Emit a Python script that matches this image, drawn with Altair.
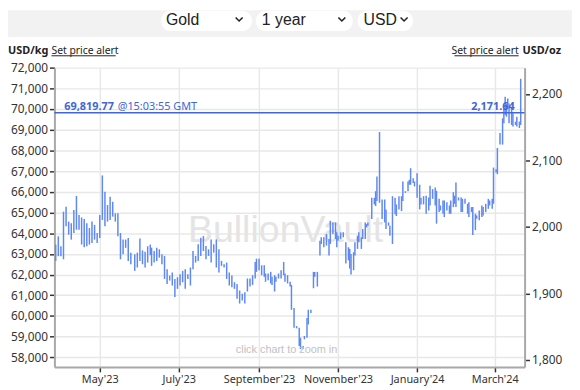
import altair as alt
import pandas as pd

# ---------------- data ----------------
START = "2023-03-27"
END = "2024-03-24"
OZ_PER_KG = 32.1507466
Y_MIN_KG = 57537
Y_MAX_KG = 72000

day_offset = [
    1, 3, 5, 7, 9, 11, 13, 15, 17, 19, 21, 23, 25, 27, 29, 31, 33, 35, 37, 39,
    41, 43, 45, 47, 49, 51, 53, 55, 57, 59, 62, 64, 66, 68, 70, 72, 74,
    75, 77, 79, 81, 83, 85, 87, 89, 91, 93, 95, 97, 99, 101, 103, 105, 107, 109,
    111, 113, 115, 117, 119, 121, 123, 125, 127, 129, 131, 133, 135, 137, 139,
    141, 143, 145, 147,
    149, 151, 153, 155, 156, 158, 160, 162, 163, 165, 167, 168, 170, 171, 173,
    175, 177, 178, 180, 182, 183, 185, 187, 189, 190, 192, 193, 195, 196, 198,
    200, 201, 203, 205, 206, 208, 210, 212, 213, 215, 217,
    218, 219, 221, 223, 225, 227, 228, 229, 231, 232, 234, 235, 237, 238, 240,
    241, 242, 245, 247, 248, 249, 251, 253, 255, 256, 258, 259, 261, 263, 264,
    266, 268, 269, 271, 273, 274, 275, 277, 278, 280, 282, 283, 285,
    287, 289, 290, 292, 294, 295, 297, 298, 300, 301, 303, 305, 306, 308, 309,
    310, 312, 314, 315, 317, 319, 320, 322, 323, 325, 326, 328, 330, 331, 333,
    335, 336, 338, 339, 341, 342, 344, 346, 347, 348, 349, 350, 351, 353, 354,
    356, 357, 359, 360,
]

high_usd_kg = [
    63450, 63850, 63370, 65040, 65280, 64560, 64480, 65120, 65800, 64880, 64760,
    64690, 64480, 64250, 64560, 64400, 64010, 64880, 66790, 66000, 65360, 65760,
    65520, 64960, 64960, 64010, 63690, 63690, 63770, 63060, 62980, 63060, 63740,
    63170, 63100, 63370, 63450,
    63300, 63140, 63300, 63220, 62980, 62900, 62260, 61950, 62100, 61790, 61870,
    62020, 62180, 62260, 62020, 62340, 63140, 62900, 63460, 63780, 63860, 63380,
    63220, 63700, 63460, 63700, 63220, 62660, 62500, 62580, 62100, 61950, 61630,
    61550, 61230, 61070, 61150,
    61810, 61810, 61970, 62610, 62770, 62770, 62450, 62450, 62050, 62050, 62130,
    61890, 61970, 61890, 62050, 62210, 62610, 62050, 61970, 61650, 61500, 60380,
    59510, 59430, 58950, 58550, 59030, 59900, 60300, 60300, 62130, 62130, 62130,
    63640, 63800, 63800, 63960, 63720, 64600, 64520, 64520,
    64040, 63880, 64040, 64040, 63560, 63320, 63240, 63000, 63080, 63560, 63880,
    64040, 63800, 64200, 64520, 64440, 64520, 65710, 65710, 66030, 66740, 68890,
    65630, 65630, 65150, 64520, 64360, 65790, 65710, 65390, 65790, 65790, 66500,
    66030, 66500, 66580, 67140, 66660, 66500, 66900, 66340, 65710, 65790,
    65810, 65730, 66290, 66130, 66210, 66050, 65660, 65340, 65580, 65580, 65500,
    65340, 65580, 65980, 65810, 66450, 65730, 65730, 65660, 65660, 65420, 65500,
    65260, 65260, 64940, 64860, 65100, 65340, 65260, 65420, 65660, 65580, 65660,
    67170, 67090, 68120, 68840, 69550, 70030, 70590, 70270, 70510, 70270, 70110,
    69790, 69390, 69630, 69390, 71460,
]

low_usd_kg = [
    62660, 62890, 62890, 62740, 64330, 63930, 63690, 64010, 64170, 64170, 63450,
    63320, 63370, 63450, 63530, 63690, 63530, 63770, 64640, 64330, 64560, 64640,
    64800, 64560, 63850, 62740, 62980, 63290, 62660, 62500, 62180, 62340, 62660,
    62500, 62340, 62580, 62940,
    62420, 62580, 62660, 62820, 62500, 61790, 61550, 61710, 61470, 60910, 61310,
    61470, 61630, 61310, 61790, 61470, 62260, 62580, 62660, 62900, 63140, 62740,
    62900, 62580, 63060, 62340, 62100, 62420, 62340, 61790, 61470, 61390, 61310,
    60830, 60600, 60750, 60600,
    61180, 61420, 61500, 61810, 62130, 62210, 61970, 61890, 61650, 61730, 61570,
    61500, 61180, 61650, 61810, 61810, 61970, 61650, 61570, 61420, 60300, 59430,
    59400, 58550, 58400, 58400, 58870, 58950, 59590, 60140, 61340, 61890, 61420,
    62920, 63480, 63320, 63400, 62920, 63480, 63960, 63720,
    63320, 63640, 63720, 63800, 62530, 62690, 62290, 62000, 62210, 62920, 63240,
    63560, 63240, 63720, 63720, 64280, 64360, 64680, 65390, 65310, 65550, 65470,
    64680, 64520, 64200, 64360, 63880, 63480, 64910, 64830, 65150, 65070, 65550,
    65950, 66030, 66340, 66340, 66420, 66260, 65710, 65150, 65390, 65390,
    64940, 65100, 65340, 65660, 65340, 64460, 65020, 65100, 64940, 64780, 65100,
    64940, 64940, 65260, 65420, 65260, 65580, 65020, 65020, 65420, 64940, 64780,
    65020, 63910, 64150, 64700, 64620, 64780, 64860, 65020, 65180, 65340, 65180,
    65420, 66930, 66850, 68280, 68280, 69310, 69710, 69630, 70110, 69310, 69230,
    69150, 69230, 69150, 69080, 69230,
]

y_ticks_kg = [58000, 59000, 60000, 61000, 62000, 63000, 64000, 65000,
              66000, 67000, 68000, 69000, 70000, 71000, 72000]
y_ticks_oz = [1800, 1900, 2000, 2100, 2200]
x_ticks = ["2023-05-01", "2023-07-01", "2023-09-01",
           "2023-11-01", "2024-01-01", "2024-03-01"]

spot_usd_kg = [69819.77]
spot_label_kg = "69,819.77"
spot_time = "@15:03:55 GMT"
spot_label_oz = "2,171.64"
selector_labels = ["Gold", "1 year", "USD"]

# ---------------- styling ----------------
BAR = "#5f88f3"
SPOT = "#4366d6"
TXT = "#333333"
GRID = "#e8e8e8"
FONT = "Noto Sans"
W, H = 476, 303

start = pd.Timestamp(START)
df = pd.DataFrame({
    "date": [(start + pd.Timedelta(days=d)).strftime("%Y-%m-%d") for d in day_offset],
    "low": low_usd_kg,
    "high": high_usd_kg,
})
spot_df = pd.DataFrame({"spot": spot_usd_kg})
one = pd.DataFrame({"k": [0]})


def utc(s):
    t = pd.Timestamp(s)
    return alt.DateTime(year=t.year, month=t.month, date=t.day, utc=True)


x_scale = alt.Scale(type="utc", domain=[utc(START), utc(END)])
y_scale = alt.Scale(domain=[Y_MIN_KG, Y_MAX_KG], nice=False, zero=False)

x_axis = alt.Axis(values=[utc(s) for s in x_ticks],
                  labelExpr="utcFormat(datum.value, \"%B'%y\")",
                  grid=True, gridColor=GRID, gridWidth=1.5,
                  tickSize=5, tickColor=TXT, tickWidth=1.5,
                  domainColor="#a8a8a8", domainWidth=2,
                  labelFont=FONT, labelFontSize=11, labelColor=TXT,
                  labelPadding=2, labelFlush=False, title=None)
y_axis = alt.Axis(values=y_ticks_kg, format=",.0f",
                  grid=True, gridColor=GRID, gridWidth=1.5,
                  tickSize=5, tickColor=TXT, tickWidth=1.5,
                  domainColor="#a8a8a8", domainWidth=2,
                  labelFont=FONT, labelFontSize=12, labelColor=TXT,
                  labelPadding=2, title=None)

watermark = alt.Chart(one).mark_text(
    text="BullionVault", font="Liberation Sans", fontSize=38, color="#e4e4e4",
    align="center", baseline="alphabetic"
).encode(x=alt.value(234), y=alt.value(177))

bars = alt.Chart(df).mark_rule(color=BAR, strokeWidth=1.5).encode(
    x=alt.X("date:T", scale=x_scale, axis=x_axis),
    y=alt.Y("low:Q", scale=y_scale, axis=y_axis),
    y2="high:Q",
)

spot_y = alt.Y("spot:Q", scale=y_scale, axis=y_axis)
spot_line = alt.Chart(spot_df).mark_rule(color=SPOT, strokeWidth=1.5).encode(y=spot_y)

spot_txt1 = alt.Chart(spot_df).mark_text(
    text=spot_label_kg, font=FONT, fontSize=11, fontWeight="bold", color=SPOT,
    align="left", baseline="alphabetic", dy=-3
).encode(x=alt.value(10), y=spot_y)
spot_txt2 = alt.Chart(spot_df).mark_text(
    text=spot_time, font=FONT, fontSize=11, color=SPOT,
    align="left", baseline="alphabetic", dy=-3
).encode(x=alt.value(64), y=spot_y)
spot_txt3 = alt.Chart(spot_df).mark_text(
    text=spot_label_oz, font=FONT, fontSize=11, fontWeight="bold", color=SPOT,
    align="right", baseline="alphabetic", dy=-3
).encode(x=alt.value(466), y=spot_y)

zoom_hint = alt.Chart(one).mark_text(
    text="click chart to zoom in", font="Liberation Sans", fontSize=11,
    color="#c2c2c2", align="center", baseline="alphabetic"
).encode(x=alt.value(235), y=alt.value(289))

left_group = alt.layer(watermark, bars, spot_line, spot_txt1, spot_txt2,
                       spot_txt3, zoom_hint)

right = alt.Chart(pd.DataFrame({"oz": [Y_MIN_KG / OZ_PER_KG, Y_MAX_KG / OZ_PER_KG]})
                  ).mark_point(opacity=0).encode(
    y=alt.Y("oz:Q",
            scale=alt.Scale(domain=[Y_MIN_KG / OZ_PER_KG, Y_MAX_KG / OZ_PER_KG],
                            nice=False, zero=False),
            axis=alt.Axis(orient="right", values=y_ticks_oz, format=",.0f",
                          grid=False, tickSize=5, tickColor=TXT, tickWidth=1.5,
                          domainColor="#a8a8a8", domainWidth=2,
                          labelFont=FONT, labelFontSize=12, labelColor=TXT,
                          labelPadding=2, title=None))
)

# ---------------- page header (selectors and captions) ----------------
band = alt.Chart(one).mark_rect(color="#f2f2f2").encode(
    x=alt.value(-47), x2=alt.value(525), y=alt.value(-58), y2=alt.value(-31))

box_x = [(108, 200), (204, 302), (307, 363)]
txt_x = [113, 210, 313]
chev_x = [187, 291, 354]
header = [band]
for (bx1, bx2), tx, cx, lab in zip(box_x, txt_x, chev_x, selector_labels):
    header.append(alt.Chart(one).mark_rect(color="white", cornerRadius=10).encode(
        x=alt.value(bx1), x2=alt.value(bx2), y=alt.value(-57.5), y2=alt.value(-37)))
    header.append(alt.Chart(one).mark_text(
        text=lab, font="Liberation Sans", fontSize=16, color="#222222",
        align="left", baseline="alphabetic").encode(x=alt.value(tx), y=alt.value(-43)))
    header.append(alt.Chart(one).mark_point(
        shape="M-1,-0.5L0,0.5L1,-0.5", filled=False, size=50, strokeWidth=1.6,
        color="#222222", opacity=1).encode(x=alt.value(cx), y=alt.value(-49)))

cap_y = -14
header += [
    alt.Chart(one).mark_text(text="USD/kg", font=FONT, fontSize=11, fontWeight="bold",
                             color="#222222", align="left", baseline="alphabetic"
                             ).encode(x=alt.value(-47), y=alt.value(cap_y)),
    alt.Chart(one).mark_text(text="Set price alert", font=FONT, fontSize=10.5,
                             color="#222222", align="left", baseline="alphabetic"
                             ).encode(x=alt.value(-3), y=alt.value(cap_y)),
    alt.Chart(one).mark_rule(color="#222222", strokeWidth=1).encode(
        x=alt.value(-3), x2=alt.value(62), y=alt.value(cap_y + 2)),
    alt.Chart(one).mark_text(text="USD/oz", font=FONT, fontSize=11, fontWeight="bold",
                             color="#222222", align="right", baseline="alphabetic"
                             ).encode(x=alt.value(513), y=alt.value(cap_y)),
    alt.Chart(one).mark_text(text="Set price alert", font=FONT, fontSize=10.5,
                             color="#222222", align="right", baseline="alphabetic"
                             ).encode(x=alt.value(470), y=alt.value(cap_y)),
    alt.Chart(one).mark_rule(color="#222222", strokeWidth=1).encode(
        x=alt.value(405), x2=alt.value(470), y=alt.value(cap_y + 2)),
]

chart = alt.layer(left_group, right, *header).resolve_scale(y="independent").properties(
    width=W, height=H,
    autosize=alt.AutoSizeParams(type="none"),
    padding={"left": 47, "top": 58, "right": 48, "bottom": 22},
).configure_view(stroke=None)

chart.save("out.html", embed_options={"renderer": "svg", "actions": False})
